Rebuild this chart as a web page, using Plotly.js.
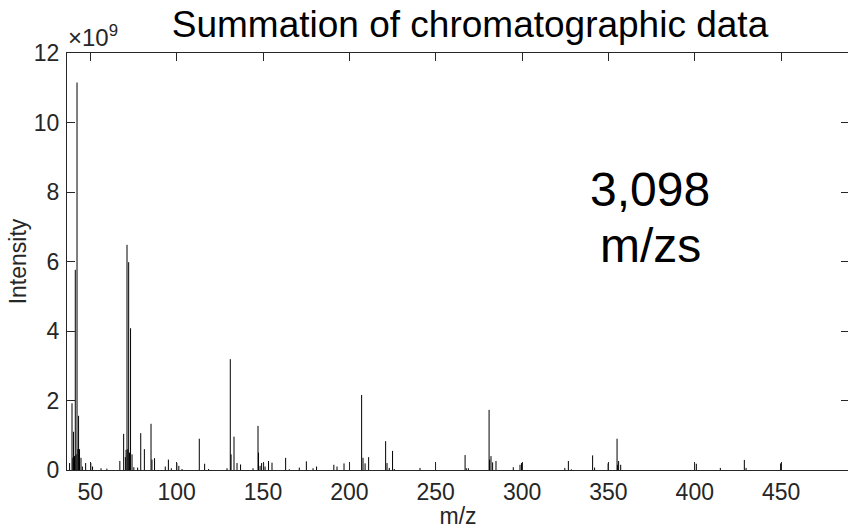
<!DOCTYPE html>
<html>
<head>
<meta charset="utf-8">
<script src="https://cdn.plot.ly/plotly-3.0.1.min.js"></script>
<style>
html,body{margin:0;padding:0;overflow:hidden;background:#fff;}
#chart{width:849px;height:529px;}
</style>
</head>
<body>
<div id="chart"></div>
<script>
// m/z positions of the peaks
const mzValues = [
  38.0, 39.4, 39.9, 40.3, 40.85, 41.3, 41.8, 42.3, 42.8, 43.2, 43.75, 44.6, 45.4, 47.3,
  50.3, 51.3, 56.2, 59.6, 67.1, 69.3, 70.3, 70.7, 71.25, 71.7, 72.2, 72.7, 73.3, 74.15,
  75.2, 77.4, 79.2, 81.3, 85.15, 85.7, 87.2, 93.4, 95.2, 96.9, 100.1, 101.25, 103.1,
  113.1, 116.2, 118.5, 129.15, 131.05, 131.5, 133.2, 134.95, 137.0, 144.2, 147.1, 147.4,
  148.3, 149.2, 150.35, 151.2, 153.2, 155.2, 163.1, 165.2, 171.0, 175.1, 178.95, 181.0,
  191.0, 192.85, 196.9, 200.1, 207.1, 207.9, 209.1, 211.15, 221.0, 221.8, 223.1, 225.0,
  226.0, 240.9, 249.9, 267.0, 267.7, 268.9, 280.9, 281.2, 282.0, 282.95, 284.9, 294.9,
  298.8, 299.7, 324.75, 326.8, 328.5, 340.85, 342.0, 349.8, 355.0, 355.3, 355.9, 357.1,
  399.9, 400.9, 414.8, 428.7, 429.7, 449.7
];
// intensities in units of 1e9
const intensityValues = [
  0.20, 1.92, 0.35, 1.10, 0.40, 5.76, 0.45, 11.15, 0.60, 1.56, 0.60, 0.35, 0.10, 0.20,
  0.20, 0.10, 0.05, 0.04, 0.26, 1.04, 0.37, 0.58, 6.48, 0.60, 5.98, 0.50, 4.08, 0.45,
  0.08, 0.07, 1.06, 0.60, 1.33, 0.30, 0.34, 0.10, 0.30, 0.05, 0.20, 0.12, 0.03,
  0.90, 0.18, 0.03, 0.05, 3.19, 0.45, 0.96, 0.20, 0.16, 0.05, 1.27, 0.50,
  0.12, 0.20, 0.20, 0.10, 0.26, 0.21, 0.35, 0.02, 0.07, 0.25, 0.05, 0.10,
  0.15, 0.10, 0.19, 0.19, 2.16, 0.35, 0.19, 0.37, 0.83, 0.20, 0.06, 0.55,
  0.03, 0.06, 0.19, 0.43, 0.05, 0.05, 1.73, 0.30, 0.40, 0.22, 0.26, 0.08,
  0.15, 0.20, 0.06, 0.26, 0.02, 0.42, 0.07, 0.19, 0.90, 0.15, 0.26, 0.15,
  0.19, 0.18, 0.06, 0.29, 0.06, 0.19
];
const xTickValues = [50, 100, 150, 200, 250, 300, 350, 400, 450];
const yTickValues = [0, 2, 4, 6, 8, 10, 12];
const countLabel = ["3,098", "m/zs"];

// build stem segments (x,0)->(x,y) separated by gaps
const segX = [], segY = [];
mzValues.forEach((m, i) => {
  segX.push(m, m, null);
  segY.push(0, intensityValues[i], null);
});

const axisColor = '#262626';
const fontFam = 'Arial, "Liberation Sans", Helvetica, sans-serif';

const trace = {
  type: 'scatter', mode: 'lines',
  x: segX, y: segY,
  line: {color: '#000000', width: 1},
  connectgaps: false,
  hoverinfo: 'skip'
};

const layout = {
  width: 849, height: 529,
  margin: {l: 67, r: 0, t: 53, b: 59, pad: 0},
  paper_bgcolor: '#ffffff', plot_bgcolor: '#ffffff',
  font: {family: fontFam, color: axisColor, size: 23},
  showlegend: false,
  title: {
    text: 'Summation of chromatographic data',
    font: {family: fontFam, size: 37, color: '#000000'},
    x: (470 - 67) / 782, xanchor: 'center',
    y: 1 - 24 / 529, yanchor: 'middle',
    xref: 'paper'
  },
  xaxis: {
    range: [36.5, 489.3],
    tickvals: xTickValues,
    ticktext: xTickValues.map(String),
    ticks: 'inside', ticklen: 8, tickwidth: 1, tickcolor: axisColor,
    showline: true, linecolor: axisColor, linewidth: 1, mirror: 'ticks',
    showgrid: false, zeroline: false,
    tickfont: {size: 23, color: axisColor},
    ticklabelstandoff: 1,
    title: {text: 'm/z', font: {size: 23, color: axisColor}, standoff: 6}
  },
  yaxis: {
    range: [0, 12],
    tickvals: yTickValues,
    ticktext: yTickValues.map(String),
    ticks: 'inside', ticklen: 8, tickwidth: 1, tickcolor: axisColor,
    showline: true, linecolor: axisColor, linewidth: 1, mirror: 'ticks',
    showgrid: false, zeroline: false,
    tickfont: {size: 23, color: axisColor},
    ticklabelstandoff: 2,
    title: {text: 'Intensity', font: {size: 23, color: axisColor}, standoff: 0}
  },
  annotations: [
    {
      text: '×10<sup>9</sup>', xref: 'paper', yref: 'paper',
      x: 0, xanchor: 'left', y: 1, yanchor: 'bottom', yshift: 0, xshift: -1,
      showarrow: false, font: {size: 24, color: axisColor}
    },
    {
      text: countLabel[0], xref: 'paper', yref: 'paper',
      x: (650 - 67) / 782, xanchor: 'center',
      y: (470 - 189) / 417, yanchor: 'middle',
      showarrow: false, font: {size: 48, color: '#000000'}
    },
    {
      text: countLabel[1], xref: 'paper', yref: 'paper',
      x: (650 - 67) / 782, xanchor: 'center',
      y: (470 - 245) / 417, yanchor: 'middle',
      showarrow: false, font: {size: 48, color: '#000000'}
    }
  ]
};

Plotly.newPlot('chart', [trace], layout, {staticPlot: true, displayModeBar: false});
</script>
</body>
</html>
